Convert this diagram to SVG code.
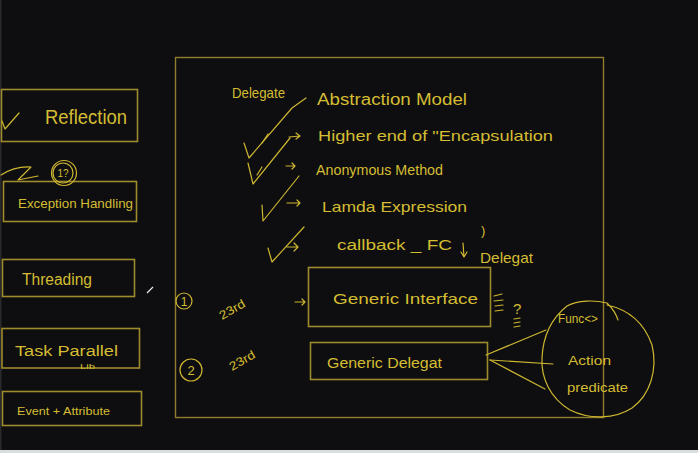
<svg xmlns="http://www.w3.org/2000/svg" width="698" height="453" viewBox="0 0 698 453">
  <style>
    .box { fill: none; stroke: #9e8b2c; stroke-width: 1.6; }
    .frame { fill: none; stroke: #8f7e2e; stroke-width: 1.4; }
    .ink { fill: none; stroke: #cdb630; stroke-width: 1.2; stroke-linecap: round; stroke-linejoin: round; }
    .t { fill: #d4bd32; font-family: "Liberation Sans", "DejaVu Sans", sans-serif; }
  </style>
  <rect x="0" y="0" width="698" height="453" fill="#0e0d10"/>
  <rect x="0" y="0" width="1.5" height="450" fill="#2a2a2c"/>
  <rect x="0" y="450" width="698" height="3" fill="#d9dddd"/>

  <g id="frame">
    <rect class="frame" x="175.5" y="57.5" width="428" height="360"/>
  </g>

  <g id="reflection">
    <rect class="box" x="1.5" y="89.5" width="136" height="52"/>
    <text class="t" x="45" y="124" font-size="20" textLength="82" lengthAdjust="spacingAndGlyphs">Reflection</text>
    <path class="ink" d="M2 121 L5 129 L19 113"/>
  </g>

  <g id="exception-handling">
    <rect class="box" x="3.5" y="181.5" width="133" height="40"/>
    <text class="t" x="18" y="208" font-size="13" textLength="115" lengthAdjust="spacingAndGlyphs">Exception Handling</text>
    <circle class="ink" cx="63" cy="173" r="10"/>
    <circle class="ink" cx="64" cy="173" r="12.5"/>
    <text class="t" x="63" y="177" font-size="10" text-anchor="middle">1?</text>
    <path class="ink" d="M1 175 Q15 166 31 167 L18 180 L38 176"/>
  </g>

  <g id="threading">
    <rect class="box" x="2.5" y="259.5" width="132" height="37"/>
    <text class="t" x="22" y="285" font-size="16" textLength="70" lengthAdjust="spacingAndGlyphs">Threading</text>
    <path d="M147 293 L153 287" stroke="#e8e8e8" stroke-width="1.2"/>
  </g>

  <g id="task-parallel">
    <rect class="box" x="2" y="328.5" width="137.5" height="39.5"/>
    <text class="t" x="15" y="356" font-size="14" textLength="103" lengthAdjust="spacingAndGlyphs">Task Parallel</text>
    <text class="t" x="80" y="369" font-size="8" textLength="15" lengthAdjust="spacingAndGlyphs">Lib</text>
  </g>

  <g id="event-attribute">
    <rect class="box" x="2.5" y="391.5" width="139" height="34"/>
    <text class="t" x="17" y="415" font-size="11" textLength="93" lengthAdjust="spacingAndGlyphs">Event + Attribute</text>
  </g>

  <g id="delegate-notes">
    <text class="t" x="232" y="98" font-size="15" textLength="53" lengthAdjust="spacingAndGlyphs">Delegate</text>
    <text class="t" x="317" y="105" font-size="16" textLength="150" lengthAdjust="spacingAndGlyphs">Abstraction Model</text>
    <text class="t" x="318" y="141" font-size="15" textLength="235" lengthAdjust="spacingAndGlyphs">Higher end of "Encapsulation</text>
    <text class="t" x="316" y="175" font-size="15" textLength="127" lengthAdjust="spacingAndGlyphs">Anonymous Method</text>
    <text class="t" x="322" y="212" font-size="15" textLength="145" lengthAdjust="spacingAndGlyphs">Lamda Expression</text>
    <text class="t" x="337" y="250" font-size="14" textLength="115" lengthAdjust="spacingAndGlyphs">callback _ FC</text>
    <text class="t" x="481" y="235" font-size="13">)</text>
    <text class="t" x="480" y="263" font-size="15" textLength="53" lengthAdjust="spacingAndGlyphs">Delegat</text>
    <path class="ink" d="M244 143 L249 158 L292 108 L306 98"/>
    <path class="ink" d="M248 163 L253 184 L290 138"/>
    <path class="ink" d="M262 205 L263 221 L299 176"/>
    <path class="ink" d="M268 248 L272 262 L304 227"/>
    <path class="ink" d="M262 143 L268 134"/>
    <path class="ink" d="M257 175 L262 167"/>
  </g>

  <g id="generic-interface">
    <rect class="box" x="308.5" y="267.5" width="182" height="59"/>
    <text class="t" x="333" y="304" font-size="15" textLength="145" lengthAdjust="spacingAndGlyphs">Generic Interface</text>
    <path class="ink" d="M494 296 L502 294 M494 301 L503 300 M495 306 L503 305 M495 311 L503 310"/>
    <text class="t" x="513" y="314" font-size="15">?</text>
    <path class="ink" d="M514 319 L520 318 M514 323 L520 322 M514 327 L520 326"/>
  </g>

  <g id="generic-delegat">
    <rect class="box" x="310.5" y="342.5" width="177" height="37"/>
    <text class="t" x="327" y="368" font-size="14" textLength="115" lengthAdjust="spacingAndGlyphs">Generic Delegat</text>
  </g>

  <g id="type-circle">
    <path class="ink" d="M607 305 C630 310 645 325 652 345 C658 370 650 395 632 408 C615 419 590 420 570 410 C550 398 541 378 542 358 C543 335 552 318 567 306 C578 300 595 300 607 303 C612 308 616 313 618 320"/>
    <text class="t" x="558" y="323" font-size="13" textLength="40" lengthAdjust="spacingAndGlyphs">Func&lt;&gt;</text>
    <text class="t" x="568" y="365" font-size="13" textLength="43" lengthAdjust="spacingAndGlyphs">Action</text>
    <text class="t" x="567" y="392" font-size="13" textLength="61" lengthAdjust="spacingAndGlyphs">predicate</text>
  </g>

  <g id="markers">
    <circle class="ink" cx="184" cy="301" r="8"/>
    <text class="t" x="184" y="306" font-size="12" text-anchor="middle">1</text>
    <circle class="ink" cx="191" cy="370" r="11"/>
    <text class="t" x="191" y="375" font-size="13" text-anchor="middle">2</text>
    <text class="t" x="0" y="0" font-size="12" transform="translate(222 320) rotate(-30)" textLength="28" lengthAdjust="spacingAndGlyphs">23rd</text>
    <text class="t" x="0" y="0" font-size="12" transform="translate(232 371) rotate(-30)" textLength="28" lengthAdjust="spacingAndGlyphs">23rd</text>
  </g>

  <g id="connectors">
    <path class="ink" d="M289 137 L300 136 M296 133 L300 136 L296 139"/>
    <path class="ink" d="M286 166 L295 166 M292 163 L295 166 L292 169"/>
    <path class="ink" d="M287 203 L300 203 M297 200 L300 203 L297 206"/>
    <path class="ink" d="M287 247 L298 247 M294 243 L298 247 L294 251"/>
    <path class="ink" d="M463 243 L464 257 M461 252 L464 257 L467 252"/>
    <path class="ink" d="M295 302 L305 302 M302 299 L305 302 L302 305"/>
    <path class="ink" d="M486 355 L546 330"/>
    <path class="ink" d="M490 360 L553 364"/>
    <path class="ink" d="M490 360 L545 389"/>
  </g>
</svg>
